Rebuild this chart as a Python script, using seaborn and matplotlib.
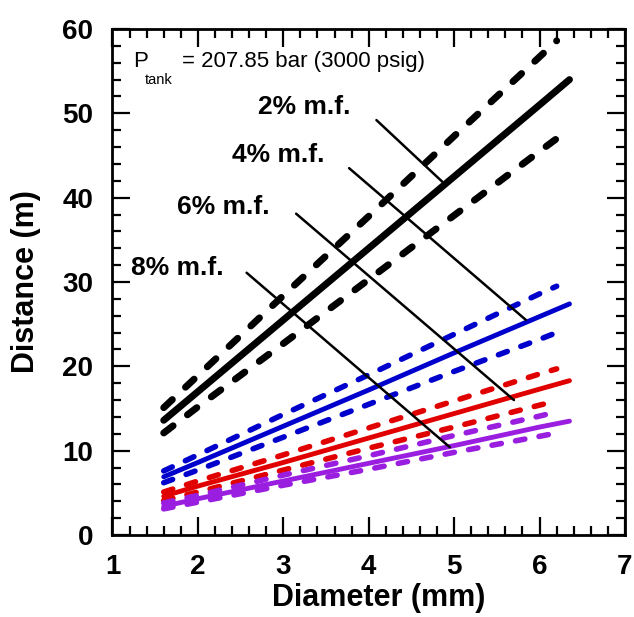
import matplotlib
matplotlib.use("Agg")
import matplotlib.pyplot as plt
from matplotlib.ticker import MultipleLocator
import seaborn as sns

# diameters (mm) where the curves were read
d_solid = [1.6, 2.0, 3.0, 4.0, 5.0, 6.0, 6.35]
d_band = [1.6, 2.0, 3.0, 4.0, 5.0, 6.0, 6.2]

# distance (m), solid = nominal, hi/lo = dashed band
black_mid = [13.6, 17.0, 25.5, 34.0, 42.5, 51.0, 54.0]
black_hi = [15.1, 18.9, 28.4, 37.8, 47.3, 56.7, 58.6]
black_lo = [12.1, 15.2, 22.7, 30.3, 37.9, 45.5, 47.0]

blue_mid = [6.9, 8.6, 12.9, 17.2, 21.6, 25.9, 27.4]
blue_hi = [7.6, 9.5, 14.3, 19.0, 23.8, 28.6, 29.5]
blue_lo = [6.2, 7.7, 11.6, 15.5, 19.4, 23.2, 24.0]

red_mid = [4.6, 5.8, 8.6, 11.5, 14.4, 17.3, 18.3]
red_hi = [5.1, 6.4, 9.5, 12.7, 15.9, 19.1, 19.7]
red_lo = [4.1, 5.1, 7.7, 10.3, 12.8, 15.4, 15.9]

purple_mid = [3.4, 4.3, 6.4, 8.5, 10.6, 12.8, 13.5]
purple_hi = [3.8, 4.7, 7.1, 9.4, 11.8, 14.1, 14.6]
purple_lo = [3.1, 3.9, 5.9, 7.8, 9.8, 11.7, 12.1]

labels = ["2% m.f.", "4% m.f.", "6% m.f.", "8% m.f."]
label_xy = [(2.70, 50.8), (2.40, 45.0), (1.76, 38.9), (1.22, 31.7)]
leader_from = [(4.09, 49.2), (3.77, 43.5), (3.15, 38.1), (2.57, 31.1)]
leader_to = [(4.86, 41.9), (5.84, 25.5), (5.70, 16.0), (4.95, 10.4)]

sns.set_style("ticks")
plt.rcParams['font.family'] = ['Liberation Sans', 'DejaVu Sans']
plt.rcParams.update({
    "text.color": "black", "axes.labelcolor": "black", "axes.edgecolor": "black",
    "xtick.color": "black", "ytick.color": "black",
})

fig = plt.figure(figsize=(6.34, 6.17), dpi=100)
ax = fig.add_axes([0.1774, 0.1329, 0.8084, 0.8201])

groups = [
    ("black", black_mid, black_hi, black_lo, 5.0, 5.0),
    ("#0000cc", blue_mid, blue_hi, blue_lo, 3.5, 4.0),
    ("#e00000", red_mid, red_hi, red_lo, 3.5, 4.0),
    ("#9a1ee0", purple_mid, purple_hi, purple_lo, 3.5, 4.0),
]
for color, mid, hi, lo, lw_s, lw_d in groups:
    sns.lineplot(x=d_solid, y=mid, ax=ax, color=color, lw=lw_s,
                 solid_capstyle="round")
    for band in (hi, lo):
        sns.lineplot(x=d_band, y=band, ax=ax, color=color, lw=lw_d,
                     linestyle=(0, (1.7, 2.6)), dash_capstyle="round")

for p0, p1 in zip(leader_from, leader_to):
    ax.plot([p0[0], p1[0]], [p0[1], p1[1]], color="black", lw=1.8)

for lab, (x, y) in zip(labels, label_xy):
    ax.text(x, y, lab, fontsize=19, fontweight="bold", ha="left", va="center")

ax.text(1.237, 56.1, "P", fontsize=16, ha="left", va="center")
ax.text(1.38, 53.9, "tank", fontsize=10.5, ha="left", va="center")
ax.text(1.81, 56.1, "= 207.85 bar (3000 psig)", fontsize=16, ha="left", va="center")

ax.set_xlim(1, 7)
ax.set_ylim(0, 60)
ax.xaxis.set_major_locator(MultipleLocator(1))
ax.xaxis.set_minor_locator(MultipleLocator(0.2))
ax.yaxis.set_major_locator(MultipleLocator(10))
ax.yaxis.set_minor_locator(MultipleLocator(2))
ax.tick_params(which="both", direction="in", top=True, right=True, width=1.6)
ax.tick_params(which="major", length=13, pad=14, labelsize=20)
ax.tick_params(which="minor", length=6.5)
for lbl in ax.get_xticklabels() + ax.get_yticklabels():
    lbl.set_fontweight("bold")
for sp in ax.spines.values():
    sp.set_linewidth(2.0)
    sp.set_visible(True)

ax.set_xlabel("Diameter (mm)", fontsize=22, fontweight="bold")
ax.set_ylabel("Distance (m)", fontsize=22, fontweight="bold")
ax.xaxis.set_label_coords(0.52, -0.095)
ax.yaxis.set_label_coords(-0.14, 0.5)

fig.savefig("out.png", dpi=100)
